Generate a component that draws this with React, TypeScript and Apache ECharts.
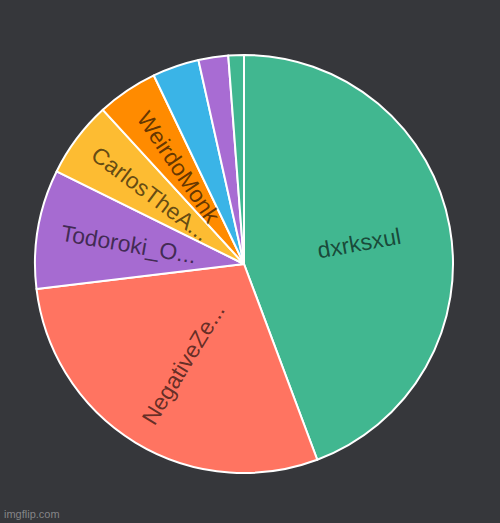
import React, { useRef, useEffect } from 'react';
import * as echarts from 'echarts';

// slices clockwise from 12 o'clock
const names = ['dxrksxul', 'NegativeZe...', 'Todoroki_O...', 'CarlosTheA...', 'WeirdoMonk', 'user6', 'user7', 'user8'];
const values = [443, 288, 92, 59, 47, 36, 23, 12];
const colors = ['#41b790', '#ff7461', '#a66bd1', '#fdbc32', '#ff8b00', '#3ab4e7', '#a86cd3', '#41b790'];
const showLabel = [true, true, true, true, true, false, false, false];

const App: React.FC = () => {
  const chartRef = useRef<HTMLDivElement>(null);

  useEffect(() => {
    if (!chartRef.current) return;
    const chart = echarts.init(chartRef.current, undefined, { renderer: 'svg' });

    chart.setOption({
      animation: false,
      backgroundColor: '#36373b',
      graphic: [
        {
          type: 'text',
          left: 4,
          top: 508,
          style: {
            text: 'imgflip.com',
            fill: 'rgba(200,200,200,0.55)',
            font: '11px "Liberation Sans", Arial, sans-serif',
          },
        },
      ],
      series: [
        {
          type: 'pie',
          center: [244, 264],
          radius: [0, 209],
          startAngle: 90,
          clockwise: true,
          avoidLabelOverlap: false,
          itemStyle: { borderColor: '#ffffff', borderWidth: 2 },
          label: { show: false },
          labelLine: { show: false },
          emphasis: { disabled: true },
          data: names.map((n, i) => ({
            name: n,
            value: values[i],
            itemStyle: { color: colors[i] },
          })),
        },
        {
          // transparent copy, only for placing the labels a little further out
          type: 'pie',
          silent: true,
          z: 3,
          center: [244, 264],
          radius: [0, 228],
          startAngle: 90,
          clockwise: true,
          avoidLabelOverlap: false,
          labelLayout: { hideOverlap: false },
          itemStyle: { color: 'transparent', borderWidth: 0 },
          label: {
            show: true,
            position: 'inside',
            rotate: 'radial',
            color: 'rgba(0,0,0,0.62)',
            fontSize: 23,
            fontFamily: '"Liberation Sans", Arial, sans-serif',
          },
          labelLine: { show: false },
          emphasis: { disabled: true },
          data: names.map((n, i) => ({
            name: n,
            value: values[i],
            label: { show: showLabel[i] },
          })),
        },
      ],
    });

    return () => chart.dispose();
  }, []);

  return (
    <div ref={chartRef} style={{ position: 'fixed', left: 0, top: 0, width: 500, height: 523 }} />
  );
};

export default App;
